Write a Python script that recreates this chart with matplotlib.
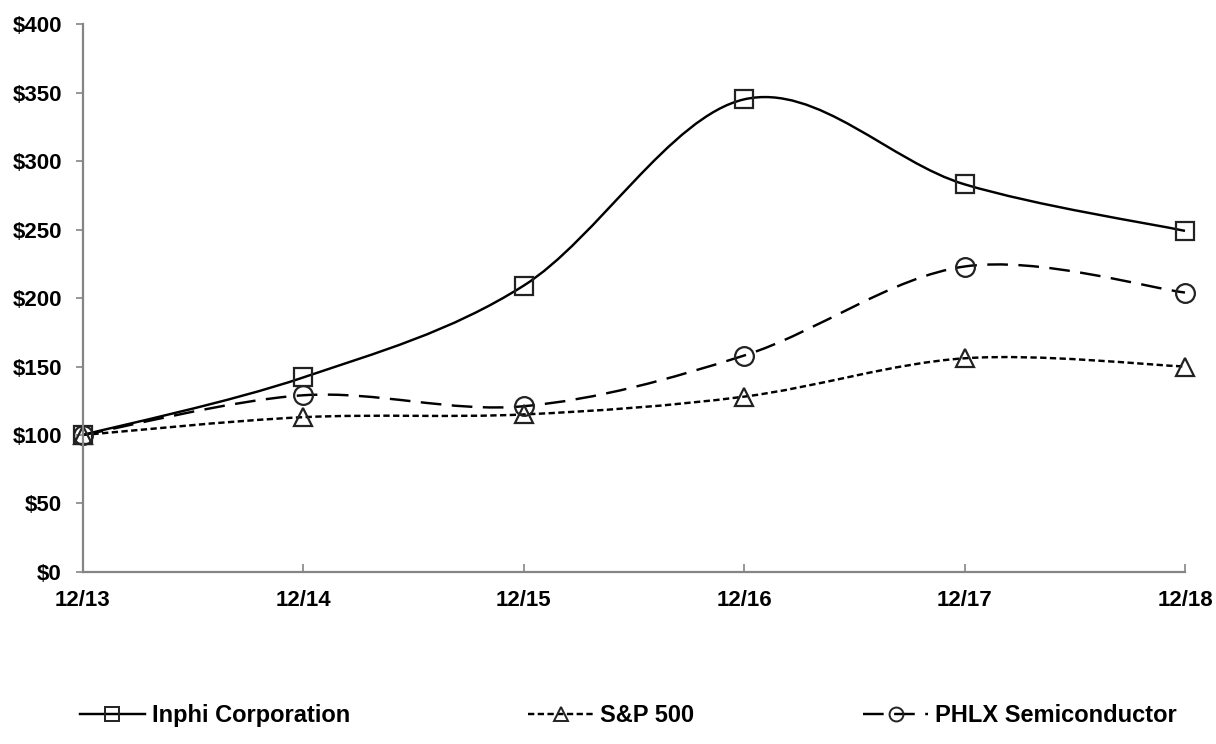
import matplotlib
matplotlib.use("Agg")
import matplotlib.pyplot as plt
from matplotlib.path import Path
from matplotlib.patches import PathPatch
from matplotlib.lines import Line2D

periods = ["12/13", "12/14", "12/15", "12/16", "12/17", "12/18"]
inphi = [100, 142, 209, 345, 283, 249]
sp500 = [100, 113, 115, 128, 156, 150]
phlx = [100, 129, 121, 158, 223, 204]
yticks = [0, 50, 100, 150, 200, 250, 300, 350, 400]

plt.rcParams["font.family"] = ["Liberation Sans", "DejaVu Sans"]
plt.rcParams["font.weight"] = "bold"


def smooth_path(xs, ys):
    """Excel style smoothed line as cubic bezier segments"""
    pts = list(zip(xs, ys))
    verts = [pts[0]]
    codes = [Path.MOVETO]
    n = len(pts)
    for i in range(n - 1):
        p0 = pts[max(i - 1, 0)]
        p1 = pts[i]
        p2 = pts[i + 1]
        p3 = pts[min(i + 2, n - 1)]
        c1 = (p1[0] + (p2[0] - p0[0]) / 6, p1[1] + (p2[1] - p0[1]) / 6)
        c2 = (p2[0] - (p3[0] - p1[0]) / 6, p2[1] - (p3[1] - p1[1]) / 6)
        verts += [c1, c2, p2]
        codes += [Path.CURVE4] * 3
    return Path(verts, codes)


fig = plt.figure(figsize=(12.16, 7.44), dpi=100)
ax = fig.add_axes([0.068, 0.2312, 0.9065, 0.7365])

x = list(range(len(periods)))
series = [
    ("Inphi Corporation", inphi, "s", "-"),
    ("S&P 500", sp500, "^", (0, (2.6, 1.4))),
    ("PHLX Semiconductor", phlx, "o", (0, (8.5, 4.3))),
]

handles = []
for label, vals, mk, ls in series:
    patch = PathPatch(smooth_path(x, vals), fill=False, edgecolor="black",
                      linewidth=1.75, linestyle=ls, clip_on=False)
    ax.add_patch(patch)
    ax.plot(x, vals, linestyle="none", marker=mk, markersize=13.5,
            markerfacecolor="none", markeredgecolor="#222222",
            markeredgewidth=1.6, clip_on=False)
    handles.append(Line2D([], [], color="black", linewidth=1.75, linestyle=ls,
                          marker=mk, markersize=10, markerfacecolor="none",
                          markeredgecolor="#222222", markeredgewidth=1.4,
                          label=label))

ax.set_xlim(0, 5)
ax.set_ylim(0, 400)
ax.set_xticks(x)
ax.set_xticklabels(periods)
ax.set_yticks(yticks)
ax.set_yticklabels(["$%d" % v for v in yticks])

for side in ["top", "right"]:
    ax.spines[side].set_visible(False)
for side in ["left", "bottom"]:
    ax.spines[side].set_color("#858585")
    ax.spines[side].set_linewidth(1.6)

ax.tick_params(axis="y", direction="out", length=5, width=1.2,
               color="#858585", pad=10, labelsize=16)
ax.tick_params(axis="x", direction="in", length=6, width=1.2,
               color="#858585", pad=13, labelsize=16)

# three separate legend entries along the bottom
anchors = [0.058, 0.4265, 0.702]
for h, ax_x in zip(handles, anchors):
    fig.legend(handles=[h], loc="center left", bbox_to_anchor=(ax_x, 0.038),
               frameon=False, fontsize=17, handlelength=2.75,
               handletextpad=0.3, borderaxespad=0)

fig.savefig("out.png", dpi=100)
